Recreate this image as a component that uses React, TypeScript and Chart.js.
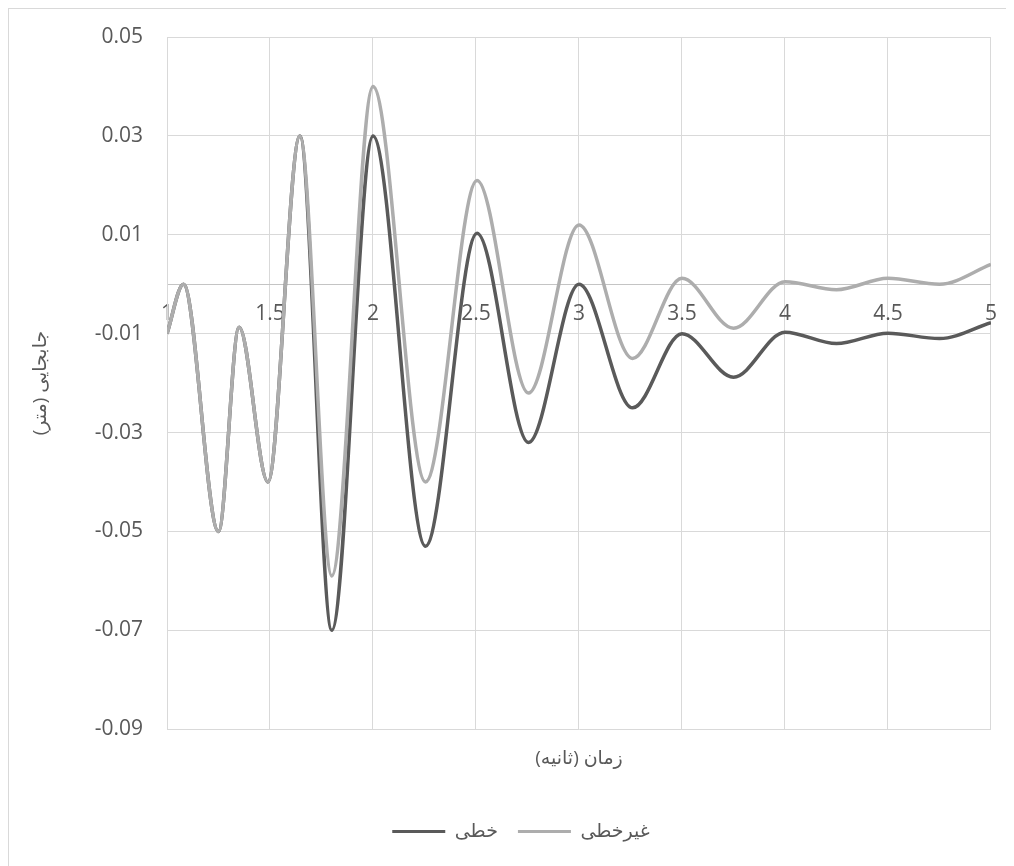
import React, { useEffect, useRef } from "react";
import { Chart, registerables } from "chart.js";

Chart.register(...registerables);

// ---- data ----
const timeValues = [1, 1.08, 1.25, 1.35, 1.49, 1.645, 1.8, 2.0, 2.255, 2.505, 2.755, 3.0, 3.26, 3.5, 3.75, 4.0, 4.25, 4.5, 4.75, 5];
const linearDisp = [-0.01, 0, -0.05, -0.0087, -0.04, 0.03, -0.07, 0.03, -0.053, 0.0103, -0.032, 0, -0.025, -0.01, -0.0188, -0.0097, -0.012, -0.0099, -0.011, -0.0078];
const nonlinearDisp = [-0.01, 0, -0.05, -0.0087, -0.04, 0.03, -0.059, 0.04, -0.04, 0.021, -0.022, 0.012, -0.015, 0.0012, -0.0089, 0.0005, -0.0011, 0.0012, 0, 0.004];
const xTickValues = [1, 1.5, 2, 2.5, 3, 3.5, 4, 4.5, 5];
const yTickValues = [-0.09, -0.07, -0.05, -0.03, -0.01, 0.01, 0.03, 0.05];
const seriesNames = ["خطی", "غیرخطی"];
const xTitle = "\u200Fزمان (ثانیه)\u200F";
const yTitle = "\u200Fجابجایی (متر)\u200F";

const DARK = "#5a5a5a";
const LIGHT = "#adadad";
const TEXT = "#595959";
const GRID = "#d9d9d9";
const FONT = "'Open Sans', 'DejaVu Sans', sans-serif";

export default function App() {
  const ref = useRef<HTMLCanvasElement | null>(null);

  useEffect(() => {
    if (!ref.current) return;
    const chart = new Chart(ref.current, {
      type: "line",
      data: {
        datasets: [
          {
            label: seriesNames[0],
            data: timeValues.map((t, i) => ({ x: t, y: linearDisp[i] })),
            borderColor: DARK,
            backgroundColor: DARK,
            borderWidth: 3.5,
            pointRadius: 0,
            cubicInterpolationMode: "monotone",
            order: 2,
            xAxisID: "x",
            yAxisID: "y",
          },
          {
            label: seriesNames[1],
            data: timeValues.map((t, i) => ({ x: t, y: nonlinearDisp[i] })),
            borderColor: LIGHT,
            backgroundColor: LIGHT,
            borderWidth: 3.5,
            pointRadius: 0,
            cubicInterpolationMode: "monotone",
            order: 1,
            xAxisID: "x",
            yAxisID: "y",
          },
        ],
      },
      options: {
        animation: false,
        responsive: false,
        maintainAspectRatio: false,
        layout: { padding: { top: 28, right: 0, left: 19, bottom: 15 } },
        scales: {
          x: {
            type: "linear",
            position: { y: 0 } as any,
            min: 1,
            max: 5,
            afterBuildTicks: (scale: any) => {
              scale.ticks = xTickValues.map((v) => ({ value: v }));
            },
            afterFit: (scale: any) => {
              scale.height = 0;
            },
            ticks: {
              autoSkip: false,
              maxRotation: 0,
              padding: 17,
              color: TEXT,
              font: { family: FONT, size: 21 },
              callback: (v: any) => String(v),
            },
            grid: { color: GRID, lineWidth: 1, drawTicks: false },
            border: { display: true, color: "#c4c4c4", width: 1 },
          },
          x2: {
            type: "linear",
            axis: "x",
            position: "bottom",
            min: 1,
            max: 5,
            ticks: { display: false },
            grid: { display: false },
            border: { display: false },
            title: {
              display: true,
              text: xTitle,
              color: TEXT,
              font: { family: FONT, size: 19 },
              padding: { top: 10, bottom: 32 },
            },
          },
          y: {
            type: "linear",
            min: -0.09,
            max: 0.05,
            afterBuildTicks: (scale: any) => {
              scale.ticks = yTickValues.map((v) => ({ value: v }));
            },
            afterFit: (scale: any) => {
              scale.width = 139;
              scale.paddingTop = 0;
              scale.paddingBottom = 0;
            },
            ticks: {
              padding: 24,
              color: TEXT,
              font: { family: FONT, size: 21 },
              callback: (v: any) => Number(v).toFixed(2),
            },
            grid: { color: GRID, lineWidth: 1, drawTicks: false },
            border: { display: true, color: GRID, width: 1 },
            title: {
              display: true,
              text: yTitle,
              color: TEXT,
              font: { family: FONT, size: 19 },
              padding: { top: 1, bottom: 0 },
            },
          },
          yRightSpace: {
            type: "linear",
            axis: "y",
            position: "right",
            min: 0,
            max: 1,
            ticks: { display: false },
            grid: { display: false },
            border: { display: false },
            afterFit: (scale: any) => {
              scale.width = 22;
            },
          },
        },
        plugins: {
          tooltip: { enabled: false },
          legend: {
            display: true,
            position: "bottom",
            labels: {
              boxWidth: 53,
              boxHeight: 3,
              padding: 20,
              color: TEXT,
              font: { family: FONT, size: 19 },
              generateLabels: (c: any) =>
                (Chart.defaults.plugins.legend.labels.generateLabels as any)(c)
                  .map((l: any) => ({ ...l, lineWidth: 0 }))
                  .sort((a: any, b: any) => a.datasetIndex - b.datasetIndex),
            },
          },
        },
      },
    });
    return () => chart.destroy();
  }, []);

  return (
    <div
      style={{
        position: "relative",
        width: 1006,
        height: 858,
        boxSizing: "border-box",
        borderTop: "1px solid #d9d9d9",
        borderLeft: "1px solid #d9d9d9",
        background: "#fff",
      }}
    >
      <canvas ref={ref} width={1005} height={857} style={{ display: "block" }} />
    </div>
  );
}
